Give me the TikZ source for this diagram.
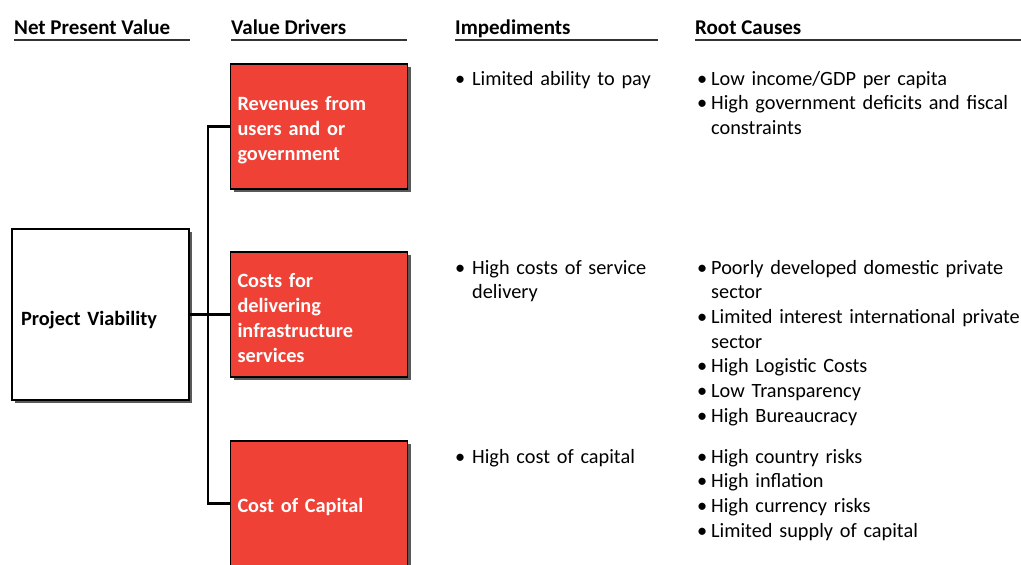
\documentclass[tikz,border=0pt]{standalone}
\usepackage{fontspec}
\setmainfont{Carlito}
\usetikzlibrary{positioning,shadows}
\definecolor{driverred}{HTML}{EF4136}
\newcommand{\bul}[2][14pt]{\hangindent=#1\hangafter=1\makebox[#1][l]{\textbullet}#2\par}

\begin{document}
\begin{tikzpicture}[x=1pt,y=-1pt,head/.style={anchor=base west,inner sep=0pt,font=\fontsize{21}{24}\selectfont\bfseries},rule/.style={line width=1.3pt,black!80},box/.style={draw=black,line width=1.2pt,minimum width=177pt,text width=163pt,inner xsep=7pt,align=left,drop shadow={shadow xshift=3pt,shadow yshift=-3pt,fill=black!65,opacity=1}},driver/.style={box,fill=driverred,text=white,minimum height=125pt,font=\fontsize{20.3}{25}\selectfont\bfseries,execute at begin node={\rule{0pt}{21pt}}},npv/.style={box,fill=white,minimum height=171pt,inner xsep=9pt,text width=159pt,font=\fontsize{20.3}{25}\selectfont\bfseries,execute at begin node={\rule{0pt}{24.5pt}}},items/.style={anchor=base west,inner sep=0pt,text width=330pt,align=left,font=\fontsize{20.3}{24.7}\selectfont}]
	\clip (0,0) rectangle (1021,565);

	% column headings
	\node[head]	(hnpv)	at (14,34)	{Net Present Value};
	\node[head]	(hdrv)	at (231,34)	{Value Drivers};
	\node[head]	(himp)	at (455,34)	{Impediments};
	\node[head]	(hroot)	at (695,34)	{Root Causes};
	\draw[rule] (14,40) -- (190,40);
	\draw[rule] (231,40) -- (407,40);
	\draw[rule] (455,40) -- (658,40);
	\draw[rule] (695,40) -- (1021,40);

	% boxes
	\node[npv]		(pv)	at (100.5,314.5)	{Project Viability};
	\node[driver]	(rev)	at (319,126.5)		{Revenues from\\users and or\\government};
	\node[driver]	(cost)	at (319,314.5)		{Costs for\\delivering\\infrastructure\\services};
	\node[driver]	(cap)	at (319,503.5)		{Cost of Capital};

	\draw[line width=2.2pt] (pv.east) -- (cost.west);
	\draw[line width=2.2pt] (rev.west) -- ++(-22,0) |- (cap.west);

	% impediments
	\node[items]	(imp1)	at (455,85)		{\bul[17pt]{Limited ability to pay}};
	\node[items]	(imp2)	at (455,274)	{\bul[17pt]{High costs of service\newline delivery}};
	\node[items]	(imp3)	at (455,463)	{\bul[17pt]{High cost of capital}};

	% root causes
	\node[items]	(root1)	at (697,85)		{\bul{Low income/GDP per capita}
		\bul{High government deficits and fiscal\newline constraints}};
	\node[items]	(root2)	at (697,274)	{\bul{Poorly developed domestic private\newline sector}
		\bul{Limited interest international private\newline sector}
		\bul{High Logistic Costs}
		\bul{Low Transparency}
		\bul{High Bureaucracy}};
	\node[items]	(root3)	at (697,463)	{\bul{High country risks}
		\bul{High inflation}
		\bul{High currency risks}
		\bul{Limited supply of capital}};
\end{tikzpicture}
\end{document}
